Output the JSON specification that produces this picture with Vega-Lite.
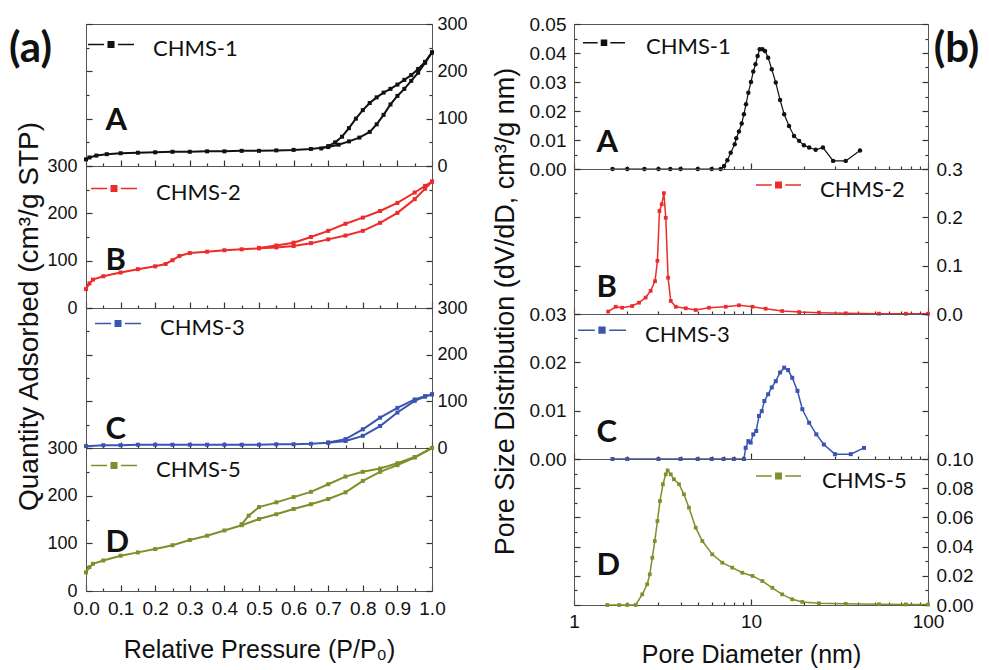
{
"$schema":"https://vega.github.io/schema/vega-lite/v6.json",
"padding":{"left":8,"top":14,"right":5,"bottom":5},
"background":"white",
"datasets":{
"iso":[
{"s":"CHMS-1","b":"a","p":0.0,"q":14},{"s":"CHMS-1","b":"a","p":0.01,"q":18},{"s":"CHMS-1","b":"a","p":0.03,"q":22},{"s":"CHMS-1","b":"a","p":0.06,"q":25},{"s":"CHMS-1","b":"a","p":0.1,"q":27},{"s":"CHMS-1","b":"a","p":0.15,"q":28},{"s":"CHMS-1","b":"a","p":0.2,"q":29},{"s":"CHMS-1","b":"a","p":0.25,"q":30},{"s":"CHMS-1","b":"a","p":0.3,"q":30},{"s":"CHMS-1","b":"a","p":0.35,"q":31},{"s":"CHMS-1","b":"a","p":0.4,"q":31},{"s":"CHMS-1","b":"a","p":0.45,"q":32},{"s":"CHMS-1","b":"a","p":0.5,"q":32},{"s":"CHMS-1","b":"a","p":0.55,"q":33},{"s":"CHMS-1","b":"a","p":0.6,"q":34},{"s":"CHMS-1","b":"a","p":0.65,"q":36},{"s":"CHMS-1","b":"a","p":0.7,"q":40},{"s":"CHMS-1","b":"a","p":0.73,"q":45},{"s":"CHMS-1","b":"a","p":0.76,"q":52},{"s":"CHMS-1","b":"a","p":0.79,"q":60},{"s":"CHMS-1","b":"a","p":0.82,"q":72},{"s":"CHMS-1","b":"a","p":0.84,"q":88},{"s":"CHMS-1","b":"a","p":0.86,"q":108},{"s":"CHMS-1","b":"a","p":0.88,"q":130},{"s":"CHMS-1","b":"a","p":0.9,"q":148},{"s":"CHMS-1","b":"a","p":0.92,"q":163},{"s":"CHMS-1","b":"a","p":0.94,"q":180},{"s":"CHMS-1","b":"a","p":0.96,"q":197},{"s":"CHMS-1","b":"a","p":0.98,"q":218},{"s":"CHMS-1","b":"a","p":1.0,"q":240},
{"s":"CHMS-1","b":"d","p":0.68,"q":37},{"s":"CHMS-1","b":"d","p":0.7,"q":42},{"s":"CHMS-1","b":"d","p":0.72,"q":50},{"s":"CHMS-1","b":"d","p":0.74,"q":62},{"s":"CHMS-1","b":"d","p":0.76,"q":80},{"s":"CHMS-1","b":"d","p":0.78,"q":100},{"s":"CHMS-1","b":"d","p":0.8,"q":118},{"s":"CHMS-1","b":"d","p":0.82,"q":133},{"s":"CHMS-1","b":"d","p":0.84,"q":145},{"s":"CHMS-1","b":"d","p":0.86,"q":155},{"s":"CHMS-1","b":"d","p":0.88,"q":163},{"s":"CHMS-1","b":"d","p":0.9,"q":172},{"s":"CHMS-1","b":"d","p":0.92,"q":182},{"s":"CHMS-1","b":"d","p":0.94,"q":192},{"s":"CHMS-1","b":"d","p":0.96,"q":205},{"s":"CHMS-1","b":"d","p":0.98,"q":220},{"s":"CHMS-1","b":"d","p":1.0,"q":240},
{"s":"CHMS-2","b":"a","p":0.0,"q":40},{"s":"CHMS-2","b":"a","p":0.01,"q":52},{"s":"CHMS-2","b":"a","p":0.02,"q":60},{"s":"CHMS-2","b":"a","p":0.05,"q":67},{"s":"CHMS-2","b":"a","p":0.1,"q":75},{"s":"CHMS-2","b":"a","p":0.15,"q":82},{"s":"CHMS-2","b":"a","p":0.2,"q":88},{"s":"CHMS-2","b":"a","p":0.23,"q":93},{"s":"CHMS-2","b":"a","p":0.25,"q":101},{"s":"CHMS-2","b":"a","p":0.27,"q":110},{"s":"CHMS-2","b":"a","p":0.3,"q":116},{"s":"CHMS-2","b":"a","p":0.35,"q":119},{"s":"CHMS-2","b":"a","p":0.4,"q":122},{"s":"CHMS-2","b":"a","p":0.45,"q":124},{"s":"CHMS-2","b":"a","p":0.5,"q":126},{"s":"CHMS-2","b":"a","p":0.55,"q":128},{"s":"CHMS-2","b":"a","p":0.6,"q":131},{"s":"CHMS-2","b":"a","p":0.65,"q":137},{"s":"CHMS-2","b":"a","p":0.7,"q":145},{"s":"CHMS-2","b":"a","p":0.75,"q":153},{"s":"CHMS-2","b":"a","p":0.8,"q":163},{"s":"CHMS-2","b":"a","p":0.85,"q":180},{"s":"CHMS-2","b":"a","p":0.9,"q":201},{"s":"CHMS-2","b":"a","p":0.95,"q":230},{"s":"CHMS-2","b":"a","p":0.98,"q":252},{"s":"CHMS-2","b":"a","p":1.0,"q":267},
{"s":"CHMS-2","b":"d","p":0.5,"q":127},{"s":"CHMS-2","b":"d","p":0.55,"q":132},{"s":"CHMS-2","b":"d","p":0.6,"q":138},{"s":"CHMS-2","b":"d","p":0.65,"q":150},{"s":"CHMS-2","b":"d","p":0.7,"q":163},{"s":"CHMS-2","b":"d","p":0.75,"q":178},{"s":"CHMS-2","b":"d","p":0.8,"q":191},{"s":"CHMS-2","b":"d","p":0.85,"q":205},{"s":"CHMS-2","b":"d","p":0.9,"q":222},{"s":"CHMS-2","b":"d","p":0.95,"q":244},{"s":"CHMS-2","b":"d","p":0.98,"q":258},{"s":"CHMS-2","b":"d","p":1.0,"q":267},
{"s":"CHMS-3","b":"a","p":0.0,"q":4},{"s":"CHMS-3","b":"a","p":0.05,"q":6},{"s":"CHMS-3","b":"a","p":0.1,"q":6},{"s":"CHMS-3","b":"a","p":0.15,"q":7},{"s":"CHMS-3","b":"a","p":0.2,"q":7},{"s":"CHMS-3","b":"a","p":0.25,"q":7},{"s":"CHMS-3","b":"a","p":0.3,"q":7},{"s":"CHMS-3","b":"a","p":0.35,"q":7},{"s":"CHMS-3","b":"a","p":0.4,"q":7},{"s":"CHMS-3","b":"a","p":0.45,"q":7},{"s":"CHMS-3","b":"a","p":0.5,"q":7},{"s":"CHMS-3","b":"a","p":0.55,"q":8},{"s":"CHMS-3","b":"a","p":0.6,"q":8},{"s":"CHMS-3","b":"a","p":0.65,"q":9},{"s":"CHMS-3","b":"a","p":0.7,"q":11},{"s":"CHMS-3","b":"a","p":0.75,"q":15},{"s":"CHMS-3","b":"a","p":0.8,"q":26},{"s":"CHMS-3","b":"a","p":0.85,"q":47},{"s":"CHMS-3","b":"a","p":0.9,"q":76},{"s":"CHMS-3","b":"a","p":0.95,"q":101},{"s":"CHMS-3","b":"a","p":0.98,"q":110},{"s":"CHMS-3","b":"a","p":1.0,"q":115},
{"s":"CHMS-3","b":"d","p":0.7,"q":12},{"s":"CHMS-3","b":"d","p":0.75,"q":19},{"s":"CHMS-3","b":"d","p":0.8,"q":40},{"s":"CHMS-3","b":"d","p":0.85,"q":65},{"s":"CHMS-3","b":"d","p":0.9,"q":86},{"s":"CHMS-3","b":"d","p":0.95,"q":104},{"s":"CHMS-3","b":"d","p":0.98,"q":111},{"s":"CHMS-3","b":"d","p":1.0,"q":115},
{"s":"CHMS-5","b":"a","p":0.0,"q":39},{"s":"CHMS-5","b":"a","p":0.01,"q":50},{"s":"CHMS-5","b":"a","p":0.02,"q":57},{"s":"CHMS-5","b":"a","p":0.05,"q":64},{"s":"CHMS-5","b":"a","p":0.1,"q":74},{"s":"CHMS-5","b":"a","p":0.15,"q":81},{"s":"CHMS-5","b":"a","p":0.2,"q":88},{"s":"CHMS-5","b":"a","p":0.25,"q":96},{"s":"CHMS-5","b":"a","p":0.3,"q":107},{"s":"CHMS-5","b":"a","p":0.35,"q":116},{"s":"CHMS-5","b":"a","p":0.4,"q":127},{"s":"CHMS-5","b":"a","p":0.45,"q":138},{"s":"CHMS-5","b":"a","p":0.5,"q":151},{"s":"CHMS-5","b":"a","p":0.55,"q":161},{"s":"CHMS-5","b":"a","p":0.6,"q":172},{"s":"CHMS-5","b":"a","p":0.65,"q":182},{"s":"CHMS-5","b":"a","p":0.7,"q":193},{"s":"CHMS-5","b":"a","p":0.75,"q":207},{"s":"CHMS-5","b":"a","p":0.8,"q":231},{"s":"CHMS-5","b":"a","p":0.85,"q":250},{"s":"CHMS-5","b":"a","p":0.9,"q":264},{"s":"CHMS-5","b":"a","p":0.95,"q":280},{"s":"CHMS-5","b":"a","p":1.0,"q":300},
{"s":"CHMS-5","b":"d","p":0.45,"q":140},{"s":"CHMS-5","b":"d","p":0.47,"q":158},{"s":"CHMS-5","b":"d","p":0.5,"q":176},{"s":"CHMS-5","b":"d","p":0.55,"q":186},{"s":"CHMS-5","b":"d","p":0.6,"q":197},{"s":"CHMS-5","b":"d","p":0.65,"q":208},{"s":"CHMS-5","b":"d","p":0.7,"q":224},{"s":"CHMS-5","b":"d","p":0.75,"q":240},{"s":"CHMS-5","b":"d","p":0.8,"q":250},{"s":"CHMS-5","b":"d","p":0.85,"q":257},{"s":"CHMS-5","b":"d","p":0.9,"q":268},{"s":"CHMS-5","b":"d","p":0.95,"q":281},{"s":"CHMS-5","b":"d","p":1.0,"q":300}
],
"psd":[
{"s":"CHMS-1","d":1.65,"v":0},{"s":"CHMS-1","d":2,"v":0},{"s":"CHMS-1","d":2.5,"v":0},{"s":"CHMS-1","d":3,"v":0},{"s":"CHMS-1","d":3.5,"v":0},{"s":"CHMS-1","d":4,"v":0},{"s":"CHMS-1","d":5,"v":0},{"s":"CHMS-1","d":6,"v":0},{"s":"CHMS-1","d":6.74,"v":0},{"s":"CHMS-1","d":7.04,"v":0.001},{"s":"CHMS-1","d":7.35,"v":0.003},{"s":"CHMS-1","d":7.68,"v":0.0056},{"s":"CHMS-1","d":8.09,"v":0.0085},{"s":"CHMS-1","d":8.26,"v":0.0106},{"s":"CHMS-1","d":8.55,"v":0.0129},{"s":"CHMS-1","d":8.86,"v":0.0157},{"s":"CHMS-1","d":9.12,"v":0.0189},{"s":"CHMS-1","d":9.37,"v":0.0223},{"s":"CHMS-1","d":9.66,"v":0.0263},{"s":"CHMS-1","d":10,"v":0.030},{"s":"CHMS-1","d":10.3,"v":0.0336},{"s":"CHMS-1","d":10.6,"v":0.0361},{"s":"CHMS-1","d":10.9,"v":0.039},{"s":"CHMS-1","d":11.2,"v":0.0413},{"s":"CHMS-1","d":11.6,"v":0.0413},{"s":"CHMS-1","d":12,"v":0.0407},{"s":"CHMS-1","d":12.5,"v":0.0384},{"s":"CHMS-1","d":13.1,"v":0.0344},{"s":"CHMS-1","d":13.8,"v":0.0298},{"s":"CHMS-1","d":14.6,"v":0.0238},{"s":"CHMS-1","d":15.4,"v":0.0189},{"s":"CHMS-1","d":16.4,"v":0.0148},{"s":"CHMS-1","d":17.5,"v":0.0114},{"s":"CHMS-1","d":18.7,"v":0.0097},{"s":"CHMS-1","d":19.9,"v":0.0082},{"s":"CHMS-1","d":21.3,"v":0.0074},{"s":"CHMS-1","d":23.2,"v":0.0066},{"s":"CHMS-1","d":25.5,"v":0.0074},{"s":"CHMS-1","d":29.1,"v":0.0028},{"s":"CHMS-1","d":34.3,"v":0.0028},{"s":"CHMS-1","d":41.3,"v":0.0064},
{"s":"CHMS-2","d":1.56,"v":0.005},{"s":"CHMS-2","d":1.72,"v":0.015},{"s":"CHMS-2","d":1.87,"v":0.013},{"s":"CHMS-2","d":2.13,"v":0.0165},{"s":"CHMS-2","d":2.33,"v":0.0234},{"s":"CHMS-2","d":2.54,"v":0.034},{"s":"CHMS-2","d":2.71,"v":0.048},{"s":"CHMS-2","d":2.87,"v":0.068},{"s":"CHMS-2","d":2.96,"v":0.11},{"s":"CHMS-2","d":3.04,"v":0.213},{"s":"CHMS-2","d":3.13,"v":0.227},{"s":"CHMS-2","d":3.22,"v":0.25},{"s":"CHMS-2","d":3.3,"v":0.199},{"s":"CHMS-2","d":3.4,"v":0.075},{"s":"CHMS-2","d":3.52,"v":0.027},{"s":"CHMS-2","d":3.76,"v":0.015},{"s":"CHMS-2","d":4.28,"v":0.0118},{"s":"CHMS-2","d":4.87,"v":0.0083},{"s":"CHMS-2","d":5.79,"v":0.013},{"s":"CHMS-2","d":7.2,"v":0.015},{"s":"CHMS-2","d":8.55,"v":0.018},{"s":"CHMS-2","d":10.2,"v":0.015},{"s":"CHMS-2","d":12.1,"v":0.011},{"s":"CHMS-2","d":15,"v":0.0062},{"s":"CHMS-2","d":18.7,"v":0.004},{"s":"CHMS-2","d":24.2,"v":0.0028},{"s":"CHMS-2","d":34.3,"v":0.0014},{"s":"CHMS-2","d":52.9,"v":0.0007},{"s":"CHMS-2","d":75,"v":0.0006},{"s":"CHMS-2","d":100,"v":0.0005},
{"s":"CHMS-3","d":1.65,"v":0},{"s":"CHMS-3","d":2,"v":0},{"s":"CHMS-3","d":3,"v":0},{"s":"CHMS-3","d":4,"v":0},{"s":"CHMS-3","d":5,"v":0},{"s":"CHMS-3","d":6,"v":0},{"s":"CHMS-3","d":7,"v":0},{"s":"CHMS-3","d":8,"v":0},{"s":"CHMS-3","d":9.12,"v":0},{"s":"CHMS-3","d":9.33,"v":0.0023},{"s":"CHMS-3","d":9.66,"v":0.0037},{"s":"CHMS-3","d":9.96,"v":0.0034},{"s":"CHMS-3","d":10.3,"v":0.0051},{"s":"CHMS-3","d":10.7,"v":0.0058},{"s":"CHMS-3","d":11.1,"v":0.0089},{"s":"CHMS-3","d":11.5,"v":0.0099},{"s":"CHMS-3","d":11.9,"v":0.012},{"s":"CHMS-3","d":12.5,"v":0.0134},{"s":"CHMS-3","d":13.1,"v":0.0148},{"s":"CHMS-3","d":13.8,"v":0.0161},{"s":"CHMS-3","d":14.6,"v":0.0179},{"s":"CHMS-3","d":15.4,"v":0.0189},{"s":"CHMS-3","d":16.2,"v":0.0184},{"s":"CHMS-3","d":17.1,"v":0.0168},{"s":"CHMS-3","d":18.3,"v":0.0141},{"s":"CHMS-3","d":19.5,"v":0.0103},{"s":"CHMS-3","d":21.3,"v":0.0075},{"s":"CHMS-3","d":23.4,"v":0.0051},{"s":"CHMS-3","d":25.8,"v":0.003},{"s":"CHMS-3","d":29.8,"v":0.001},{"s":"CHMS-3","d":36.6,"v":0.001},{"s":"CHMS-3","d":43.5,"v":0.0023},
{"s":"CHMS-5","d":1.54,"v":0},{"s":"CHMS-5","d":1.8,"v":0},{"s":"CHMS-5","d":2.0,"v":0},{"s":"CHMS-5","d":2.23,"v":0},{"s":"CHMS-5","d":2.43,"v":0.0073},{"s":"CHMS-5","d":2.59,"v":0.0142},{"s":"CHMS-5","d":2.68,"v":0.021},{"s":"CHMS-5","d":2.77,"v":0.0324},{"s":"CHMS-5","d":2.86,"v":0.0438},{"s":"CHMS-5","d":2.96,"v":0.0575},{"s":"CHMS-5","d":3.06,"v":0.0712},{"s":"CHMS-5","d":3.18,"v":0.0827},{"s":"CHMS-5","d":3.3,"v":0.0895},{"s":"CHMS-5","d":3.38,"v":0.0922},{"s":"CHMS-5","d":3.52,"v":0.0895},{"s":"CHMS-5","d":3.67,"v":0.0861},{"s":"CHMS-5","d":3.92,"v":0.0827},{"s":"CHMS-5","d":4.18,"v":0.0758},{"s":"CHMS-5","d":4.46,"v":0.0667},{"s":"CHMS-5","d":4.87,"v":0.053},{"s":"CHMS-5","d":5.31,"v":0.0438},{"s":"CHMS-5","d":6.04,"v":0.0347},{"s":"CHMS-5","d":6.88,"v":0.029},{"s":"CHMS-5","d":7.84,"v":0.0256},{"s":"CHMS-5","d":8.93,"v":0.0221},{"s":"CHMS-5","d":10.2,"v":0.0199},{"s":"CHMS-5","d":11.6,"v":0.0164},{"s":"CHMS-5","d":13.2,"v":0.0118},{"s":"CHMS-5","d":15,"v":0.0073},{"s":"CHMS-5","d":17.1,"v":0.0039},{"s":"CHMS-5","d":19.5,"v":0.0021},{"s":"CHMS-5","d":24.2,"v":0.0012},{"s":"CHMS-5","d":34.3,"v":0.0008},{"s":"CHMS-5","d":52.9,"v":0.0005},{"s":"CHMS-5","d":75,"v":0.0004},{"s":"CHMS-5","d":100,"v":0.0003}
]
},
"spacing":22,
"resolve":{"scale":{"color":"independent"},"legend":{"color":"independent"}},
"hconcat":[
{"spacing":0,"bounds":"flush",
 "resolve":{"scale":{"color":"independent"},"legend":{"color":"independent"}},
 "vconcat":[
 {"width":346,"height":142,"data":{"name":"iso"},
  "transform":[{"filter":"datum.s=='CHMS-1'"}],
  "encoding":{"x":{"field":"p","type":"quantitative","scale":{"domain":[0,1]},"axis":{"orient":"bottom","values":[0,0.05,0.1,0.15,0.2,0.25,0.3,0.35,0.4,0.45,0.5,0.55,0.6,0.65,0.7,0.75,0.8,0.85,0.9,0.95,1],"labels":false,"title":null,"tickSize":{"condition":{"test":"round(datum.value*20)%2==0","value":-6},"value":-3}}}},
  "layer":[
   {"mark":{"type":"line","strokeWidth":2},
    "encoding":{
     "y":{"field":"q","type":"quantitative","scale":{"domain":[0,300]},"axis":{"orient":"left","values":[0,50,100,150,200,250,300],"labels":false,"tickSize":{"condition":{"test":"datum.value%100==0","value":-6},"value":-3},"title":"(a)","titleAngle":0,"titleX":-56,"titleY":24,"titleAlign":"center","titleBaseline":"middle","titleFont":"Lato","titleFontWeight":"bold","titleFontSize":42}},
     "detail":{"field":"b"},
     "color":{"field":"s","type":"nominal","scale":{"range":["#111111"]},"legend":{"orient":"none","legendX":1,"legendY":1,"title":null,"symbolType":"M-1,-0.2H-0.3M0.3,-0.2H1M-0.12,-0.32H0.12V-0.08H-0.12Z","symbolSize":2116,"symbolStrokeWidth":1.5,"symbolFillColor":"#111111","labelOffset":18}}}},
   {"mark":{"type":"square","size":16,"opacity":1},
    "encoding":{
     "y":{"field":"q","type":"quantitative","axis":{"orient":"right","values":[0,50,100,150,200,250,300],"labelExpr":"datum.value%100==0?datum.label:''","tickSize":{"condition":{"test":"datum.value%100==0","value":-6},"value":-3},"labelPadding":11,"title":"A","titleAngle":0,"titleX":-327,"titleY":105,"titleAlign":"left","titleBaseline":"alphabetic","titleFont":"Lato","titleFontWeight":"bold","titleFontSize":31}},
     "color":{"field":"s","type":"nominal","legend":null}}}
  ],
  "resolve":{"axis":{"y":"independent"}}},
 {"width":346,"height":142,"data":{"name":"iso"},
  "transform":[{"filter":"datum.s=='CHMS-2'"}],
  "encoding":{"x":{"field":"p","type":"quantitative","scale":{"domain":[0,1]},"axis":{"orient":"bottom","values":[0,0.05,0.1,0.15,0.2,0.25,0.3,0.35,0.4,0.45,0.5,0.55,0.6,0.65,0.7,0.75,0.8,0.85,0.9,0.95,1],"labels":false,"title":null,"tickSize":{"condition":{"test":"round(datum.value*20)%2==0","value":-6},"value":-3}}}},
  "layer":[
   {"mark":{"type":"line","strokeWidth":2},
    "encoding":{
     "y":{"field":"q","type":"quantitative","scale":{"domain":[0,300]},"axis":{"orient":"left","values":[0,50,100,150,200,250,300],"labelExpr":"datum.value%100==0?datum.label:''","tickSize":{"condition":{"test":"datum.value%100==0","value":-6},"value":-3},"labelPadding":15,"title":"Quantity Adsorbed (cm³/g STP)","titleAngle":-90,"titleX":-57,"titleY":150,"titleAlign":"center","titleBaseline":"middle","titleFontSize":28}},
     "detail":{"field":"b"},
     "color":{"field":"s","type":"nominal","scale":{"range":["#ee2b2b"]},"legend":{"orient":"none","legendX":4,"legendY":3,"title":null,"symbolType":"M-1,-0.2H-0.3M0.3,-0.2H1M-0.12,-0.32H0.12V-0.08H-0.12Z","symbolSize":2116,"symbolStrokeWidth":1.5,"symbolFillColor":"#ee2b2b","labelOffset":18}}}},
   {"mark":{"type":"square","size":16,"opacity":1},
    "encoding":{
     "y":{"field":"q","type":"quantitative","axis":{"orient":"right","values":[0,50,100,150,200,250,300],"labels":false,"tickSize":{"condition":{"test":"datum.value%100==0","value":-6},"value":-3},"title":"B","titleAngle":0,"titleX":-327,"titleY":103,"titleAlign":"left","titleBaseline":"alphabetic","titleFont":"Lato","titleFontWeight":"bold","titleFontSize":31}},
     "color":{"field":"s","type":"nominal","legend":null}}}
  ],
  "resolve":{"axis":{"y":"independent"}}},
 {"width":346,"height":140,"data":{"name":"iso"},
  "transform":[{"filter":"datum.s=='CHMS-3'"}],
  "encoding":{"x":{"field":"p","type":"quantitative","scale":{"domain":[0,1]},"axis":{"orient":"bottom","values":[0,0.05,0.1,0.15,0.2,0.25,0.3,0.35,0.4,0.45,0.5,0.55,0.6,0.65,0.7,0.75,0.8,0.85,0.9,0.95,1],"labels":false,"title":null,"tickSize":{"condition":{"test":"round(datum.value*20)%2==0","value":-6},"value":-3}}}},
  "layer":[
   {"mark":{"type":"line","strokeWidth":2},
    "encoding":{
     "y":{"field":"q","type":"quantitative","scale":{"domain":[0,300]},"axis":{"orient":"left","values":[0,50,100,150,200,250,300],"labels":false,"tickSize":{"condition":{"test":"datum.value%100==0","value":-6},"value":-3},"title":"C","titleAngle":0,"titleX":19,"titleY":130,"titleAlign":"left","titleBaseline":"alphabetic","titleFont":"Lato","titleFontWeight":"bold","titleFontSize":31}},
     "detail":{"field":"b"},
     "color":{"field":"s","type":"nominal","scale":{"range":["#3a55b0"]},"legend":{"orient":"none","legendX":8,"legendY":-4,"title":null,"symbolType":"M-1,-0.2H-0.3M0.3,-0.2H1M-0.12,-0.32H0.12V-0.08H-0.12Z","symbolSize":2116,"symbolStrokeWidth":1.5,"symbolFillColor":"#3a55b0","labelOffset":18}}}},
   {"mark":{"type":"square","size":16,"opacity":1},
    "encoding":{
     "y":{"field":"q","type":"quantitative","axis":{"orient":"right","values":[0,50,100,150,200,250,300],"labelExpr":"datum.value%100==0?datum.label:''","tickSize":{"condition":{"test":"datum.value%100==0","value":-6},"value":-3},"title":null,"labelPadding":11}},
     "color":{"field":"s","type":"nominal","legend":null}}}
  ],
  "resolve":{"axis":{"y":"independent"}}},
 {"width":346,"height":143,"data":{"name":"iso"},
  "transform":[{"filter":"datum.s=='CHMS-5'"}],
  "encoding":{"x":{"field":"p","type":"quantitative","scale":{"domain":[0,1]},"axis":{"orient":"bottom","values":[0,0.05,0.1,0.15,0.2,0.25,0.3,0.35,0.4,0.45,0.5,0.55,0.6,0.65,0.7,0.75,0.8,0.85,0.9,0.95,1],"labelExpr":"round(datum.value*20)%2==0?format(datum.value,'.1f'):''","labelFontSize":19,"labelPadding":14,"title":"Relative Pressure (P/P₀)","titleFontSize":25,"titlePadding":16,"tickSize":{"condition":{"test":"round(datum.value*20)%2==0","value":-6},"value":-3}}}},
  "layer":[
   {"mark":{"type":"line","strokeWidth":2},
    "encoding":{
     "y":{"field":"q","type":"quantitative","scale":{"domain":[0,300]},"axis":{"orient":"left","values":[0,50,100,150,200,250,300],"labelExpr":"datum.value%100==0?datum.label:''","tickSize":{"condition":{"test":"datum.value%100==0","value":-6},"value":-3},"labelPadding":15,"title":null}},
     "detail":{"field":"b"},
     "color":{"field":"s","type":"nominal","scale":{"range":["#7f8f2a"]},"legend":{"orient":"none","legendX":4,"legendY":-2,"title":null,"symbolType":"M-1,-0.2H-0.3M0.3,-0.2H1M-0.12,-0.32H0.12V-0.08H-0.12Z","symbolSize":2116,"symbolStrokeWidth":1.5,"symbolFillColor":"#7f8f2a","labelOffset":18}}}},
   {"mark":{"type":"square","size":16,"opacity":1},
    "encoding":{
     "y":{"field":"q","type":"quantitative","axis":{"orient":"right","values":[0,50,100,150,200,250,300],"labels":false,"tickSize":{"condition":{"test":"datum.value%100==0","value":-6},"value":-3},"title":"D","titleAngle":0,"titleX":-327,"titleY":103,"titleAlign":"left","titleBaseline":"alphabetic","titleFont":"Lato","titleFontWeight":"bold","titleFontSize":31}},
     "color":{"field":"s","type":"nominal","legend":null}}}
  ],
  "resolve":{"axis":{"y":"independent"}}}
 ]},
{"spacing":0,"bounds":"flush",
 "resolve":{"scale":{"color":"independent"},"legend":{"color":"independent"}},
 "vconcat":[
 {"width":354,"height":145,"data":{"name":"psd"},
  "transform":[{"filter":"datum.s=='CHMS-1'"}],
  "encoding":{"x":{"field":"d","type":"quantitative","scale":{"type":"log","domain":[1,100]},"axis":{"orient":"bottom","values":[1,2,3,4,5,6,7,8,9,10,20,30,40,50,60,70,80,90,100],"labels":false,"tickSize":{"condition":{"test":"datum.value==1||datum.value==10||datum.value==100","value":-6},"value":-3},"title":"A","titleAngle":0,"titleX":22,"titleY":-18,"titleAlign":"left","titleBaseline":"alphabetic","titleFont":"Lato","titleFontWeight":"bold","titleFontSize":31}}},
  "layer":[
   {"mark":{"type":"line","strokeWidth":1.2},
    "encoding":{
     "y":{"field":"v","type":"quantitative","scale":{"domain":[0,0.05]},"axis":{"orient":"left","values":[0,0.005,0.01,0.015,0.02,0.025,0.03,0.035,0.04,0.045,0.05],"labelExpr":"round(datum.value*1000)%10==0?format(datum.value,'.2f'):''","labelFontSize":19,"tickSize":{"condition":{"test":"round(datum.value*1000)%10==0","value":-6},"value":-3},"labelPadding":14,"title":"Pore Size Distribution (dV/dD, cm³/g nm)","titleAngle":-90,"titleX":-69,"titleY":287,"titleAlign":"center","titleBaseline":"middle","titleFontSize":27}},
     "color":{"field":"s","type":"nominal","scale":{"range":["#111111"]},"legend":{"orient":"none","legendX":8,"legendY":1,"title":null,"symbolType":"M-1,-0.2H-0.3M0.3,-0.2H1M-0.12,-0.32H0.12V-0.08H-0.12Z","symbolSize":1764,"symbolStrokeWidth":1.5,"symbolFillColor":"#111111","labelOffset":20}}}},
   {"mark":{"type":"circle","size":20,"opacity":1},
    "encoding":{
     "y":{"field":"v","type":"quantitative","axis":{"orient":"right","values":[0,0.005,0.01,0.015,0.02,0.025,0.03,0.035,0.04,0.045,0.05],"labels":false,"tickSize":{"condition":{"test":"round(datum.value*1000)%10==0","value":-6},"value":-3},"title":"(b)","titleAngle":0,"titleX":28,"titleY":24,"titleAlign":"center","titleBaseline":"middle","titleFont":"Lato","titleFontWeight":"bold","titleFontSize":42}},
     "color":{"field":"s","type":"nominal","legend":null}}}
  ],
  "resolve":{"axis":{"y":"independent"}}},
 {"width":354,"height":145,"data":{"name":"psd"},
  "transform":[{"filter":"datum.s=='CHMS-2'"}],
  "encoding":{"x":{"field":"d","type":"quantitative","scale":{"type":"log","domain":[1,100]},"axis":{"orient":"bottom","values":[1,2,3,4,5,6,7,8,9,10,20,30,40,50,60,70,80,90,100],"labels":false,"title":null,"tickSize":{"condition":{"test":"datum.value==1||datum.value==10||datum.value==100","value":-6},"value":-3}}}},
  "layer":[
   {"mark":{"type":"line","strokeWidth":1.5},
    "encoding":{
     "y":{"field":"v","type":"quantitative","scale":{"domain":[0,0.3]},"axis":{"orient":"left","values":[0,0.05,0.1,0.15,0.2,0.25,0.3],"labels":false,"tickSize":{"condition":{"test":"round(datum.value*100)%10==0","value":-6},"value":-3},"title":"B","titleAngle":0,"titleX":22,"titleY":127,"titleAlign":"left","titleBaseline":"alphabetic","titleFont":"Lato","titleFontWeight":"bold","titleFontSize":31}},
     "color":{"field":"s","type":"nominal","scale":{"range":["#ee2b2b"]},"legend":{"orient":"none","legendX":181,"legendY":-3,"title":null,"symbolType":"M-1,-0.2H-0.3M0.3,-0.2H1M-0.12,-0.32H0.12V-0.08H-0.12Z","symbolSize":2025,"symbolStrokeWidth":1.5,"symbolFillColor":"#ee2b2b","labelOffset":18}}}},
   {"mark":{"type":"square","size":14,"opacity":1},
    "encoding":{
     "y":{"field":"v","type":"quantitative","axis":{"orient":"right","values":[0,0.05,0.1,0.15,0.2,0.25,0.3],"labelExpr":"round(datum.value*100)%10==0?format(datum.value,'.1f'):''","labelFontSize":19,"tickSize":{"condition":{"test":"round(datum.value*100)%10==0","value":-6},"value":-3},"labelPadding":14,"title":null}},
     "color":{"field":"s","type":"nominal","legend":null}}}
  ],
  "resolve":{"axis":{"y":"independent"}}},
 {"width":354,"height":145,"data":{"name":"psd"},
  "transform":[{"filter":"datum.s=='CHMS-3'"}],
  "encoding":{"x":{"field":"d","type":"quantitative","scale":{"type":"log","domain":[1,100]},"axis":{"orient":"bottom","values":[1,2,3,4,5,6,7,8,9,10,20,30,40,50,60,70,80,90,100],"labels":false,"title":null,"tickSize":{"condition":{"test":"datum.value==1||datum.value==10||datum.value==100","value":-6},"value":-3}}}},
  "layer":[
   {"mark":{"type":"line","strokeWidth":1.5},
    "encoding":{
     "y":{"field":"v","type":"quantitative","scale":{"domain":[0,0.03]},"axis":{"orient":"left","values":[0,0.005,0.01,0.015,0.02,0.025,0.03],"labelExpr":"round(datum.value*1000)%10==0?format(datum.value,'.2f'):''","labelFontSize":19,"tickSize":{"condition":{"test":"round(datum.value*1000)%10==0","value":-6},"value":-3},"labelPadding":14,"title":null}},
     "color":{"field":"s","type":"nominal","scale":{"range":["#3a55b0"]},"legend":{"orient":"none","legendX":3,"legendY":-4,"title":null,"symbolType":"M-1,-0.2H-0.3M0.3,-0.2H1M-0.12,-0.32H0.12V-0.08H-0.12Z","symbolSize":2304,"symbolStrokeWidth":1.5,"symbolFillColor":"#3a55b0","labelOffset":18}}}},
   {"mark":{"type":"square","size":16,"opacity":1},
    "encoding":{
     "y":{"field":"v","type":"quantitative","axis":{"orient":"right","values":[0,0.005,0.01,0.015,0.02,0.025,0.03],"labels":false,"tickSize":{"condition":{"test":"round(datum.value*1000)%10==0","value":-6},"value":-3},"title":"C","titleAngle":0,"titleX":-332,"titleY":127,"titleAlign":"left","titleBaseline":"alphabetic","titleFont":"Lato","titleFontWeight":"bold","titleFontSize":31}},
     "color":{"field":"s","type":"nominal","legend":null}}}
  ],
  "resolve":{"axis":{"y":"independent"}}},
 {"width":354,"height":146,"data":{"name":"psd"},
  "transform":[{"filter":"datum.s=='CHMS-5'"}],
  "encoding":{"x":{"field":"d","type":"quantitative","scale":{"type":"log","domain":[1,100]},"axis":{"orient":"bottom","values":[1,2,3,4,5,6,7,8,9,10,20,30,40,50,60,70,80,90,100],"labelExpr":"(datum.value==1||datum.value==10||datum.value==100)?format(datum.value,'d'):''","labelFontSize":19,"labelPadding":13,"title":"Pore Diameter (nm)","titleFontSize":25,"titlePadding":8,"tickSize":{"condition":{"test":"datum.value==1||datum.value==10||datum.value==100","value":-6},"value":-3}}}},
  "layer":[
   {"mark":{"type":"line","strokeWidth":1.5},
    "encoding":{
     "y":{"field":"v","type":"quantitative","scale":{"domain":[0,0.1]},"axis":{"orient":"left","values":[0,0.01,0.02,0.03,0.04,0.05,0.06,0.07,0.08,0.09,0.1],"labels":false,"tickSize":{"condition":{"test":"round(datum.value*100)%2==0","value":-6},"value":-3},"title":"D","titleAngle":0,"titleX":22,"titleY":115,"titleAlign":"left","titleBaseline":"alphabetic","titleFont":"Lato","titleFontWeight":"bold","titleFontSize":31}},
     "color":{"field":"s","type":"nominal","scale":{"range":["#7f8f2a"]},"legend":{"orient":"none","legendX":181,"legendY":-2,"title":null,"symbolType":"M-1,-0.2H-0.3M0.3,-0.2H1M-0.12,-0.32H0.12V-0.08H-0.12Z","symbolSize":2025,"symbolStrokeWidth":1.5,"symbolFillColor":"#7f8f2a","labelOffset":20}}}},
   {"mark":{"type":"square","size":14,"opacity":1},
    "encoding":{
     "y":{"field":"v","type":"quantitative","axis":{"orient":"right","values":[0,0.01,0.02,0.03,0.04,0.05,0.06,0.07,0.08,0.09,0.1],"labelExpr":"round(datum.value*100)%2==0?format(datum.value,'.2f'):''","labelFontSize":19,"tickSize":{"condition":{"test":"round(datum.value*100)%2==0","value":-6},"value":-3},"labelPadding":14,"title":null}},
     "color":{"field":"s","type":"nominal","legend":null}}}
  ],
  "resolve":{"axis":{"y":"independent"}}}
 ]}
],
"config":{
 "view":{"stroke":"#555555","strokeWidth":1},
 "axis":{"domainColor":"#555555","tickColor":"#333333","tickWidth":1.2,"labelColor":"#111111","labelFont":"Liberation Sans","labelFontSize":18,"titleFont":"Liberation Sans","titleFontWeight":"normal","titleColor":"#111111","grid":false,"labelFlush":false,"labelOverlap":false,"zindex":1},
 "legend":{"labelFont":"Lato","labelFontSize":22,"labelColor":"#111111","padding":0,"symbolStrokeColor":"#111111"}
}
}
